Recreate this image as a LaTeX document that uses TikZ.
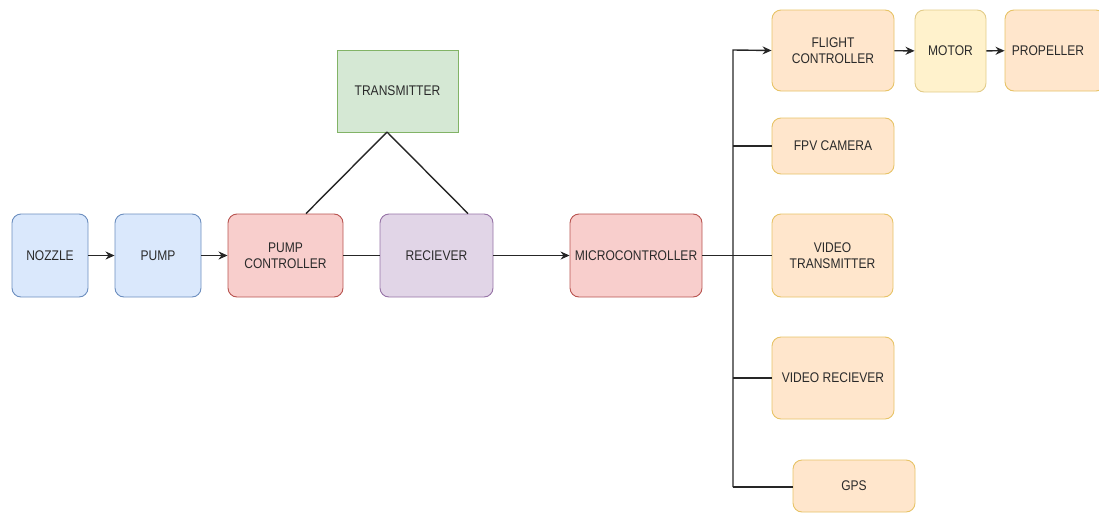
\documentclass[tikz,border=0pt]{standalone}
\usepackage{fontspec}
\setmainfont{Liberation Sans}
\newfontfamily\cond[FakeStretch=0.86]{Liberation Sans}
\usetikzlibrary{arrows.meta,calc}
\definecolor{bluef}{HTML}{DAE8FC}\definecolor{blued}{HTML}{6C8EBF}
\definecolor{redf}{HTML}{F8CECC}\definecolor{redd}{HTML}{B85450}
\definecolor{purf}{HTML}{E1D5E7}\definecolor{purd}{HTML}{9673A6}
\definecolor{grnf}{HTML}{D5E8D4}\definecolor{grnd}{HTML}{82B366}
\definecolor{orf}{HTML}{FFE6CC}\definecolor{ord}{HTML}{D79B00}
\definecolor{yelf}{HTML}{FFF2CC}\definecolor{yeld}{HTML}{D6B656}
\definecolor{txt}{HTML}{2A2A2A}
\tikzset{
  box/.style={rounded corners=9pt, line width=0.9pt, align=center, inner sep=0pt,
    font=\cond\fontsize{14}{16}\selectfont, text=txt},
  bluebox/.style={box, fill=bluef, draw=blued},
  redbox/.style={box, fill=redf, draw=redd},
  purbox/.style={box, fill=purf, draw=purd},
  orbox/.style={box, fill=orf, draw=ord!60},
  yelbox/.style={box, fill=yelf, draw=yeld!70},
  grnbox/.style={box, rounded corners=0pt, fill=grnf, draw=grnd},
  conn/.style={line width=1.4pt, draw=black!85},
  arr/.style={conn, -{Stealth[length=9pt,width=8pt]}},
}
\begin{document}
\begin{tikzpicture}[x=1pt,y=-1pt]
\useasboundingbox (0,0) rectangle (1099,514);
\clip (0,0) rectangle (1099,514);
\node[bluebox, minimum width=76pt, minimum height=83pt] (noz) at (50,255.5) {NOZZLE};
\node[bluebox, minimum width=86pt, minimum height=83pt] (pump) at (158,255.5) {PUMP};
\node[redbox, minimum width=115pt, minimum height=83pt] (pc) at (285.5,255.5) {PUMP\\CONTROLLER};
\node[purbox, minimum width=113pt, minimum height=83pt] (rec) at (436.5,255.5) {RECIEVER};
\node[redbox, minimum width=132pt, minimum height=83pt] (mc) at (636,255.5) {MICROCONTROLLER};
\node[grnbox, minimum width=121pt, minimum height=82pt] (tx) at (397.5,91) {TRANSMITTER};
\node[orbox, minimum width=122pt, minimum height=81pt] (fc) at (833,50.5) {FLIGHT\\CONTROLLER};
\node[yelbox, minimum width=71pt, minimum height=82pt] (motor) at (950.5,51) {MOTOR};
\node[orbox, minimum width=100pt, minimum height=81pt, text width=100pt] (prop) at (1055,50.5) {PROPELLER\hspace*{14pt}};
\node[orbox, minimum width=122pt, minimum height=56pt] (fpv) at (833,146) {FPV CAMERA};
\node[orbox, minimum width=121pt, minimum height=83pt] (vt) at (832.5,255.5) {VIDEO\\TRANSMITTER};
\node[orbox, minimum width=122pt, minimum height=82pt] (vr) at (833,378) {VIDEO RECIEVER};
\node[orbox, minimum width=122pt, minimum height=52pt] (gps) at (854,486) {GPS};
\coordinate (apex) at (387,132);
\coordinate (bt) at (733,50);
\coordinate (bb) at (733,487);
\draw[arr] (noz) -- (pump);
\draw[arr] (pump) -- (pc);
\draw[conn] (pc) -- (rec);
\draw[arr] (rec) -- (mc);
\draw[conn] (mc) -- (vt);
\draw[conn] (apex) -- ([xshift=20.5pt]pc.north);
\draw[conn] (apex) -- ([xshift=31.5pt]rec.north);
\draw[arr, line join=miter] (bb) -- (bt) -- (fc.west);
\draw[conn] (bb) -- (bb -| gps.west);
\draw[conn] (bt |- fpv.west) -- (fpv.west);
\draw[conn] (bt |- vr.west) -- (vr.west);
\draw[arr] (fc) -- (motor);
\draw[arr] (motor) -- (prop);
\end{tikzpicture}
\end{document}
